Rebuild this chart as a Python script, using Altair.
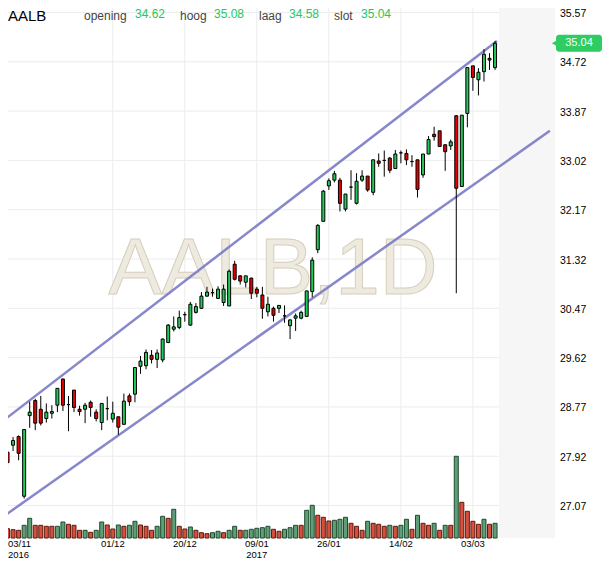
import altair as alt
import pandas as pd

# ---- data (daily candles, 03/11/2016 .. 09/03/2017) ----
opens = [28.23, 27.99, 28.11, 28.26, 27.23, 28.62, 28.88, 28.73, 28.57, 28.66,
         28.80, 29.25, 28.81, 29.06, 28.73, 28.73, 28.85, 28.68, 28.50, 28.74,
         28.56, 28.60, 28.47, 28.96, 28.99, 29.47, 29.48, 29.66, 29.59, 29.58,
         29.88, 30.11, 30.14, 30.36, 30.18, 30.40, 30.47, 30.68, 30.74, 30.64,
         30.57, 30.51, 31.23, 31.03, 30.92, 30.99, 30.80, 30.70, 30.41, 30.47,
         30.47, 30.34, 30.17, 30.30, 30.30, 30.33, 30.76, 31.48, 31.97, 32.58,
         32.68, 32.68, 32.18, 32.56, 32.28, 32.68, 32.75, 32.47, 33.01, 33.02,
         33.06, 32.88, 33.15, 33.14, 33.00, 33.03, 32.77, 33.13, 33.47, 33.53,
         33.29, 33.27, 33.79, 32.57, 33.83, 34.65, 34.41, 34.55, 34.78, 34.62]
highs = [28.33, 28.04, 28.25, 28.28, 28.39, 28.86, 28.91, 28.96, 28.83, 28.80,
         29.09, 29.26, 28.96, 29.06, 28.79, 28.84, 28.88, 28.73, 28.83, 28.95,
         28.86, 28.60, 29.00, 29.00, 29.45, 29.65, 29.76, 29.75, 29.76, 29.95,
         30.20, 30.33, 30.43, 30.41, 30.58, 30.56, 30.75, 30.84, 30.81, 30.85,
         30.88, 31.14, 31.29, 31.04, 31.03, 31.00, 30.84, 30.84, 30.67, 30.50,
         30.52, 30.52, 30.28, 30.38, 30.43, 30.77, 31.35, 31.92, 32.51, 32.71,
         32.84, 32.72, 32.44, 32.85, 32.80, 32.85, 32.75, 33.03, 33.14, 33.19,
         33.08, 33.20, 33.19, 33.21, 33.11, 33.03, 33.13, 33.44, 33.60, 33.53,
         33.29, 33.38, 33.80, 33.80, 34.62, 34.65, 34.61, 34.94, 34.87, 35.08]
lows = [28.00, 27.68, 28.01, 27.85, 27.19, 28.41, 28.37, 28.45, 28.50, 28.57,
        28.68, 28.70, 28.35, 28.68, 28.62, 28.49, 28.60, 28.52, 28.37, 28.54,
        28.50, 28.29, 28.47, 28.79, 28.85, 29.34, 29.42, 29.52, 29.44, 29.54,
        29.87, 30.07, 30.11, 30.24, 30.17, 30.38, 30.46, 30.67, 30.67, 30.63,
        30.51, 30.51, 30.95, 30.88, 30.83, 30.63, 30.66, 30.29, 30.33, 30.24,
        30.39, 30.22, 29.94, 30.08, 30.28, 30.33, 30.66, 31.42, 31.97, 32.51,
        32.64, 32.14, 32.14, 32.34, 32.26, 32.65, 32.48, 32.42, 32.91, 32.74,
        32.80, 32.88, 32.97, 32.94, 32.91, 32.38, 32.72, 33.13, 33.36, 33.26,
        32.84, 33.20, 30.73, 32.57, 33.59, 34.22, 34.14, 34.38, 34.58, 34.58]
closes = [28.11, 27.81, 28.19, 27.97, 28.38, 28.68, 28.49, 28.49, 28.68, 28.69,
          29.09, 28.80, 28.81, 28.76, 28.69, 28.80, 28.76, 28.57, 28.83, 28.74,
          28.66, 28.42, 28.87, 28.86, 29.45, 29.56, 29.71, 29.59, 29.70, 29.94,
          30.18, 30.15, 30.31, 30.36, 30.54, 30.50, 30.68, 30.75, 30.74, 30.80,
          30.80, 31.11, 30.97, 30.94, 31.03, 30.73, 30.73, 30.47, 30.54, 30.35,
          30.52, 30.34, 30.27, 30.34, 30.40, 30.77, 31.30, 31.90, 32.49, 32.67,
          32.79, 32.28, 32.44, 32.56, 32.66, 32.75, 32.51, 33.03, 32.97, 33.02,
          32.85, 33.13, 33.15, 33.03, 33.00, 32.52, 33.13, 33.38, 33.43, 33.26,
          33.17, 33.34, 32.54, 33.80, 34.62, 34.45, 34.54, 34.85, 34.75, 35.04]
volumes = [100, 93, 83, 77, 127, 197, 127, 127, 117, 117,
           117, 160, 137, 127, 77, 77, 57, 77, 160, 130,
           90, 130, 117, 127, 167, 130, 117, 77, 117, 217,
           197, 287, 117, 90, 110, 77, 53, 43, 53, 67,
           53, 77, 117, 77, 77, 87, 97, 103, 117, 87,
           67, 87, 103, 127, 127, 277, 327, 227, 207, 170,
           177, 187, 207, 147, 117, 77, 167, 147, 137, 117,
           127, 117, 127, 187, 87, 227, 147, 127, 147, 77,
           127, 127, 817, 357, 267, 167, 137, 187, 137, 147]
vol_dir = list("RRRRGGRRRR" "GGRRRGRGGR" "RGRGGRRRGG" "RGRRGRRRGG"
               "RGGRGGGGGR" "RGGGRGGRRR" "GGGRRRGRRR" "GRGGRGRRGR"
               "GRGRRRRGRG")
tick_idx = [0, 20, 33, 46, 59, 72, 85]
tick_labels = ["03/11\n2016", "01/12", "20/12", "09/01\n2017", "26/01", "14/02", "03/03"]
y_ticks = [27.07, 27.92, 28.77, 29.62, 30.47, 31.32, 32.17, 33.02, 33.87, 34.72, 35.57]
channel_name = ["upper", "upper", "lower", "lower"]
channel_i = [-0.36, 89.35, -0.36, 98.9]
channel_price = [28.49, 35.08, 26.84, 33.53]
symbol = "AALB"
watermark = "AALB,1D"
header_labels = ["opening", "hoog", "laag", "slot"]

# ---- tables ----
n = len(opens)
kind = []
for o, c in zip(opens, closes):
    kind.append("doji" if abs(c - o) < 1e-9 else ("up" if c > o else "down"))
df = pd.DataFrame({"i": list(range(n)), "open": opens, "high": highs, "low": lows,
                   "close": closes, "kind": kind, "vol": volumes,
                   "vdir": ["up" if d == "G" else "down" for d in vol_dir]})
df_ch = pd.DataFrame({"line": channel_name, "i": channel_i, "price": channel_price})
df_future = pd.DataFrame({"i0": [n - 0.3], "i1": [99.82]})
df_xt = pd.DataFrame({"i": tick_idx, "label": tick_labels})
df_yt = pd.DataFrame({"p": y_ticks, "label": [f"{v:.2f}" for v in y_ticks]})

PLOT_W, PLOT_H = 555, 538
X_DOMAIN = [-0.36, 99.82]
Y_DOMAIN = [26.51, 35.7855]
GREEN = "#22c95b"
RED = "#e60000"
FONT = "Liberation Sans"
GRID = "#ececec"

xscale = alt.Scale(domain=X_DOMAIN, nice=False, zero=False, padding=0)
yscale = alt.Scale(domain=Y_DOMAIN, nice=False, zero=False, padding=0)
X = lambda f: alt.X(f, scale=xscale, axis=None, title=None)
Y = lambda f: alt.Y(f, scale=yscale, axis=None, title=None)

base = alt.Chart(df)

# grid drawn from the tick arrays
vgrid = alt.Chart(df_xt).mark_rule(color=GRID, strokeWidth=1).encode(x=X("i:Q"))
hgrid = alt.Chart(df_yt).mark_rule(color=GRID, strokeWidth=1).encode(y=Y("p:Q"))

future = alt.Chart(df_future).mark_rect(color="#f6f6f6").encode(x=X("i0:Q"), x2="i1:Q")

wm = alt.Chart(pd.DataFrame({"t": [watermark]})).mark_text(
    font=FONT, fontSize=80, align="center", baseline="alphabetic",
    fill="#eeeae0", stroke="#d6cfbd", strokeWidth=1).encode(
    text="t:N", x=alt.value(273), y=alt.value(294))

channels = alt.Chart(df_ch).mark_line(color="#7a7ac6", strokeWidth=2.5, opacity=0.9).encode(
    x=X("i:Q"), y=Y("price:Q"), detail="line:N")

wicks = base.mark_rule(color="black", strokeWidth=1).encode(
    x=X("i:Q"), y=Y("low:Q"), y2="high:Q")

bodies = base.mark_bar(size=3, stroke="black", strokeWidth=1).encode(
    x=X("i:Q"), y=Y("open:Q"), y2="close:Q",
    fill=alt.Fill("kind:N", scale=alt.Scale(domain=["up", "down", "doji"],
                                           range=[GREEN, RED, "black"]), legend=None))

# axis labels drawn from the tick arrays through the shared scales
first_xlab = alt.Chart(df_xt.iloc[:1]).mark_text(
    font=FONT, fontSize=9.5, align="left", baseline="alphabetic", color="black",
    lineBreak="\n", lineHeight=10.7, dx=6).encode(
    x=X("i:Q"), y=alt.value(547), text="label:N")
other_xlab = alt.Chart(df_xt.iloc[1:]).mark_text(
    font=FONT, fontSize=9.5, align="center", baseline="alphabetic", color="black",
    lineBreak="\n", lineHeight=10.7).encode(
    x=X("i:Q"), y=alt.value(547), text="label:N")
ylab = alt.Chart(df_yt).mark_text(
    font=FONT, fontSize=10.5, align="left", baseline="middle", color="black", dy=1.5).encode(
    y=Y("p:Q"), x=alt.value(560), text="label:N")

last = df.iloc[-1]
hdr_vals = [last["open"], last["high"], last["low"], last["close"]]
title_mark = alt.Chart(pd.DataFrame({"t": [symbol]})).mark_text(
    font=FONT, fontSize=15, align="left", baseline="alphabetic", color="black").encode(
    text="t:N", x=alt.value(8), y=alt.value(21))
header = [title_mark]
lab_x = [84, 180, 259, 334]
val_x = [135, 214, 289, 361]
for lab, val, lx, vx in zip(header_labels, hdr_vals, lab_x, val_x):
    header.append(alt.Chart(pd.DataFrame({"t": [lab]})).mark_text(
        font=FONT, fontSize=12, align="left", baseline="alphabetic", color="#444444").encode(
        text="t:N", x=alt.value(lx), y=alt.value(19.5)))
    header.append(alt.Chart(pd.DataFrame({"t": [f"{val:.2f}"]})).mark_text(
        font=FONT, fontSize=12, align="left", baseline="alphabetic", color=GREEN).encode(
        text="t:N", x=alt.value(vx), y=alt.value(18)))

tag_df = pd.DataFrame({"c": [last["close"]], "top": [last["close"] + 0.147],
                       "bot": [last["close"] - 0.147], "t": [f"{last['close']:.2f}"]})
tag_rect = alt.Chart(tag_df).mark_rect(color="#2ecc62", cornerRadius=3).encode(
    x=alt.value(556), x2=alt.value(602), y=Y("top:Q"), y2="bot:Q")
tag_ptr = alt.Chart(tag_df).mark_point(shape="triangle-left", filled=True, size=25,
                                       color="#2ecc62", opacity=1).encode(
    x=alt.value(554), y=Y("c:Q"))
tag_txt = alt.Chart(tag_df).mark_text(font=FONT, fontSize=11, color="white",
                                      align="center", baseline="middle").encode(
    text="t:N", x=alt.value(579), y=Y("c:Q"))

price = alt.layer(vgrid, hgrid, future, wm, channels, wicks, bodies,
                  first_xlab, other_xlab, ylab, *header, tag_rect, tag_ptr, tag_txt)

volume = base.mark_bar(size=4, strokeWidth=1).encode(
    x=X("i:Q"),
    y=alt.Y("vol:Q", scale=alt.Scale(domain=[0, PLOT_H * 10], nice=False, padding=0), axis=None),
    fill=alt.Fill("vdir:N", scale=alt.Scale(domain=["up", "down"], range=["#5f9f78", "#d6503e"]),
                  legend=None),
    stroke=alt.Stroke("vdir:N", scale=alt.Scale(domain=["up", "down"], range=["#1d4a2c", "#5c1a0e"]),
                      legend=None))

# the svg is kept at 594 x 552 so the page (with its 8px margin) fits the window
chart = alt.layer(price, volume).resolve_scale(
    y="independent", fill="independent", stroke="independent"
).properties(
    width=PLOT_W, height=PLOT_H,
    autosize=alt.AutoSizeParams(type="none"),
    padding={"left": -8, "top": -8, "right": 47, "bottom": 22},
    background="white",
).configure_view(strokeWidth=0).configure_scale(continuousPadding=0)

chart.save("out.html", embed_options={"renderer": "svg", "actions": False})
